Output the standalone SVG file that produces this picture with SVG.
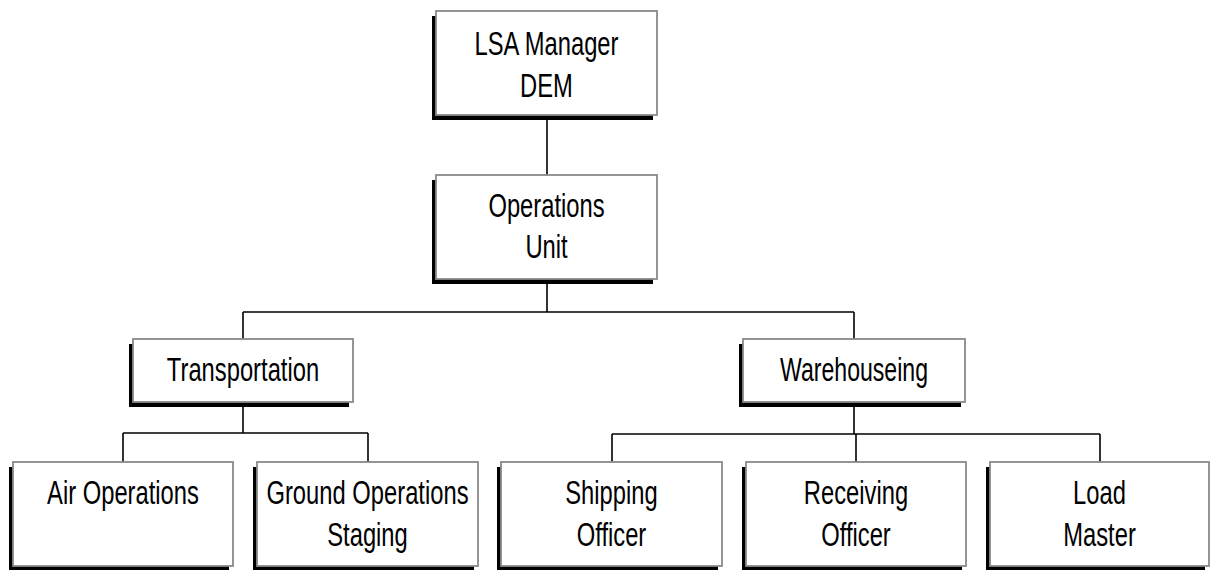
<svg xmlns="http://www.w3.org/2000/svg" width="1212" height="570" viewBox="0 0 1212 570">
<style>
.sh{fill:#000}
.bx{fill:#fff;stroke:#8a8a8a;stroke-width:1.8}
.t{font-family:"Liberation Sans",Arial,sans-serif;font-size:33px;fill:#000;text-anchor:middle}
.c{fill:none;stroke:#000;stroke-width:1.6}
</style>
<rect width="1212" height="570" fill="#fff"/>
<g id="connectors">
<path class="c" d="M547 115V175"/>
<path class="c" d="M547 279V312M243 312H854M243 312V339M854 312V339"/>
<path class="c" d="M243 402V433M123 433H368M123 433V462M368 433V462"/>
<path class="c" d="M854 402V434M612 434H1100M612 434V462M856 434V462M1100 434V462"/>
</g>
<g id="lsa-manager">
<rect class="sh" x="432" y="16" width="221" height="104"/>
<rect class="bx" x="436" y="11" width="221" height="104"/>
<text class="t" transform="translate(546.5,55) scale(0.72,1)">LSA Manager</text>
<text class="t" transform="translate(546.5,97) scale(0.72,1)">DEM</text>
</g>
<g id="operations-unit">
<rect class="sh" x="432" y="180" width="221" height="104"/>
<rect class="bx" x="436" y="175" width="221" height="104"/>
<text class="t" transform="translate(546.5,217) scale(0.72,1)">Operations</text>
<text class="t" transform="translate(546.5,258) scale(0.72,1)">Unit</text>
</g>
<g id="transportation">
<rect class="sh" x="129" y="344" width="220" height="63"/>
<rect class="bx" x="133" y="339" width="220" height="63"/>
<text class="t" transform="translate(243,381) scale(0.72,1)">Transportation</text>
</g>
<g id="warehouseing">
<rect class="sh" x="739" y="344" width="222" height="63"/>
<rect class="bx" x="743" y="339" width="222" height="63"/>
<text class="t" transform="translate(854,381) scale(0.70,1)">Warehouseing</text>
</g>
<g id="air-operations">
<rect class="sh" x="9" y="467" width="220" height="104"/>
<rect class="bx" x="13" y="462" width="220" height="104"/>
<text class="t" transform="translate(123,504) scale(0.72,1)">Air Operations</text>
</g>
<g id="ground-operations">
<rect class="sh" x="253" y="467" width="221" height="104"/>
<rect class="bx" x="257" y="462" width="221" height="104"/>
<text class="t" transform="translate(367.5,504) scale(0.72,1)">Ground Operations</text>
<text class="t" transform="translate(367.5,546) scale(0.72,1)">Staging</text>
</g>
<g id="shipping-officer">
<rect class="sh" x="497" y="467" width="221" height="104"/>
<rect class="bx" x="501" y="462" width="221" height="104"/>
<text class="t" transform="translate(611.5,504) scale(0.72,1)">Shipping</text>
<text class="t" transform="translate(611.5,546) scale(0.72,1)">Officer</text>
</g>
<g id="receiving-officer">
<rect class="sh" x="742" y="467" width="220" height="104"/>
<rect class="bx" x="746" y="462" width="220" height="104"/>
<text class="t" transform="translate(856,504) scale(0.72,1)">Receiving</text>
<text class="t" transform="translate(856,546) scale(0.72,1)">Officer</text>
</g>
<g id="load-master">
<rect class="sh" x="986" y="467" width="219" height="104"/>
<rect class="bx" x="990" y="462" width="219" height="104"/>
<text class="t" transform="translate(1099.5,504) scale(0.72,1)">Load</text>
<text class="t" transform="translate(1099.5,546) scale(0.72,1)">Master</text>
</g>
</svg>
